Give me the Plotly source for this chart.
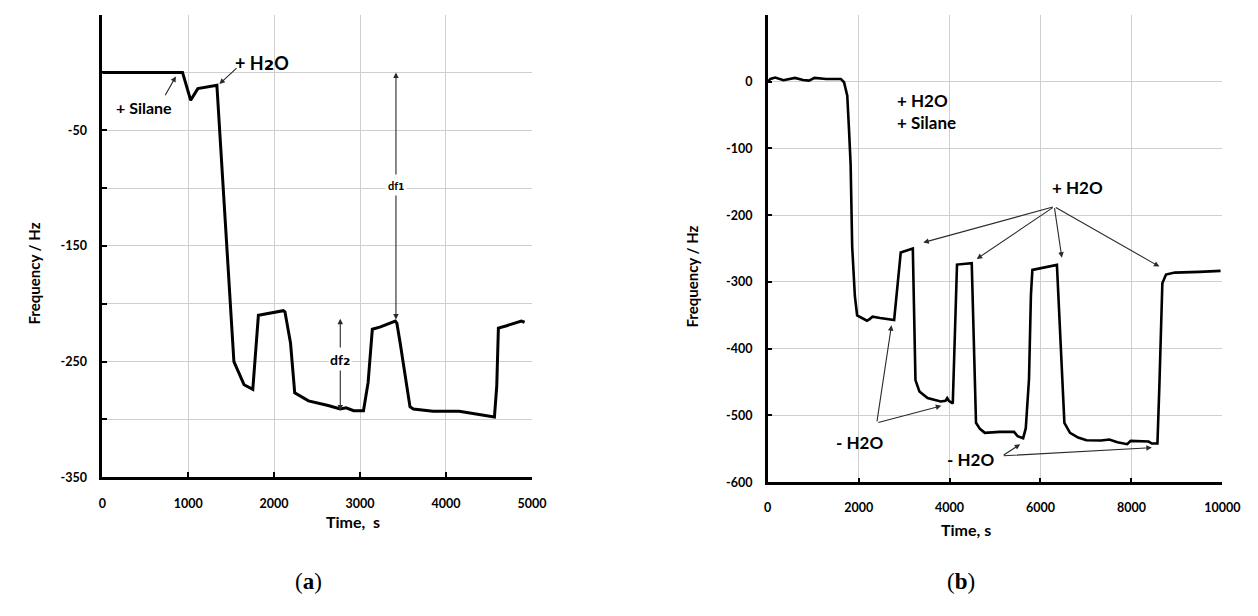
import plotly.graph_objects as go

# ---- Panel (a): frequency shift vs time ----
time_a = [0, 934, 1029, 1112, 1334, 1532, 1650, 1752, 1817, 1943, 2107, 2126,
          2191, 2240, 2400, 2629, 2769, 2838, 2926, 3040, 3094, 3143, 3238,
          3410, 3429, 3467, 3581, 3620, 3849, 4153, 4564, 4591, 4610, 4706,
          4877, 4915]
freq_a = [0, 0, -24, -14, -11, -250, -270, -274, -210, -208, -206, -207,
          -234, -277, -284, -288, -291, -290, -292.5, -292.5, -268, -222, -220,
          -215, -217, -234, -289, -291, -293, -293, -298, -271, -221, -219,
          -215, -216]

# ---- Panel (b): frequency shift vs time ----
time_b = [0, 58, 166, 346, 599, 778, 908, 1031, 1284, 1608, 1679, 1750, 1787,
          1824, 1858, 1917, 1967, 2075, 2183, 2234, 2306, 2472, 2781, 2926,
          3192, 3250, 3337, 3516, 3804, 3911, 3948, 3985, 4071, 4164, 4488,
          4582, 4668, 4776, 5100, 5418, 5497, 5619, 5677, 5748, 5790, 5822,
          6362, 6526, 6650, 6829, 7010, 7334, 7514, 7693, 7909, 7983, 8199,
          8378, 8450, 8573, 8616, 8681, 8761, 8955, 9495, 9962]
freq_b = [-1, 4, 6, 2, 5.5, 2.5, 1.5, 5.5, 4, 4, -1, -21, -70,
          -124, -247, -321, -350, -353.5, -358, -356, -352, -354, -357, -256,
          -250, -447, -464, -474, -479, -478, -474, -478, -482, -274, -272,
          -511, -520, -526, -524.5, -524.5, -531, -534, -519, -445, -320, -282,
          -274.5, -511, -526, -533, -537, -537.5, -536, -540, -543, -538, -539,
          -539, -542, -542, -454.5, -302, -289, -286, -285, -283.5]

# labelled axis ticks
ytick_a = [-350, -250, -150, -50]
xtick_a = [0, 1000, 2000, 3000, 4000, 5000]
ytick_b = [-600, -500, -400, -300, -200, -100, 0]
xtick_b = [0, 2000, 4000, 6000, 8000, 10000]

FONT = "Lato"
GRID = "#cfcfcf"
ARROW = "#2a2a2a"

fig = go.Figure()
fig.add_trace(go.Scatter(x=time_a, y=freq_a, mode="lines",
                         line=dict(color="black", width=3),
                         xaxis="x", yaxis="y", showlegend=False,
                         hoverinfo="skip"))
fig.add_trace(go.Scatter(x=time_b, y=freq_b, mode="lines",
                         line=dict(color="black", width=2.6),
                         xaxis="x2", yaxis="y2", showlegend=False,
                         hoverinfo="skip"))

tickfont = dict(family=FONT, size=12.5, color="black", weight="bold")
common_axis = dict(showline=True, linecolor="black", linewidth=2.5,
                   showgrid=True, gridcolor=GRID, gridwidth=1,
                   zeroline=False, ticks="inside", ticklen=5, tickwidth=1.5,
                   tickcolor="black", tickfont=tickfont, fixedrange=True)


def minor(step):
    return dict(dtick=step, tick0=0, showgrid=True, gridcolor=GRID,
                gridwidth=1, ticks="inside", ticklen=5, tickwidth=1.5,
                tickcolor="black")


def sub(ch, px):
    # subscript digit drawn with a font whose subscript glyphs are full-sized
    return ("<span style=\"font-family:'DejaVu Sans';font-size:%dpx\">%s</span>"
            % (px, ch))


fig.update_layout(
    width=1258, height=616,
    margin=dict(l=0, r=0, t=0, b=0),
    paper_bgcolor="white", plot_bgcolor="white",
    xaxis=dict(domain=[100 / 1258, 537.3 / 1258], range=[0, 5000],
               tickmode="array", tickvals=xtick_a,
               ticktext=[str(v) for v in xtick_a], anchor="y",
               ticklabelstandoff=13, **common_axis),
    yaxis=dict(domain=[1 - 482.7 / 616, 1 - 14.8 / 616], range=[-350, 50],
               tickmode="array", tickvals=ytick_a,
               ticktext=[str(v) for v in ytick_a], minor=minor(50),
               anchor="x", ticklabelstandoff=10, **common_axis),
    xaxis2=dict(domain=[777.3 / 1258, 1240 / 1258], range=[0, 10000],
                tickmode="array", tickvals=xtick_b,
                ticktext=[str(v) for v in xtick_b], anchor="y2",
                ticklabelstandoff=12, **common_axis),
    yaxis2=dict(domain=[1 - 487.8 / 616, 1 - 15 / 616], range=[-600, 100],
                tickmode="array", tickvals=ytick_b,
                ticktext=[str(v) for v in ytick_b], minor=minor(100),
                anchor="x2", ticklabelstandoff=10, **common_axis),
)

ann = []


def label(text, x, y, size, xref="x", yref="y", **kw):
    d = dict(text=text, x=x, y=y, xref=xref, yref=yref, showarrow=False,
             font=dict(family=FONT, size=size, color="black", weight="bold"))
    d.update(kw)
    ann.append(d)


def arrow(x, y, ax, ay, xref="x", yref="y", side="end", head=2, size=1.0):
    ann.append(dict(text="", x=x, y=y, ax=ax, ay=ay, xref=xref, yref=yref,
                    axref=xref, ayref=yref, showarrow=True, arrowhead=head,
                    startarrowhead=head, arrowside=side, arrowsize=size,
                    startarrowsize=size, arrowwidth=1.1, arrowcolor=ARROW,
                    standoff=0, startstandoff=0))


# panel (a) annotations
label("+ Silane", 491, -30.5, 16)
arrow(857, -3.4, 723, -21)
label("+ H" + sub("\u2082", 24) + "O", 1857, 9, 18)
arrow(1363, -10, 1581, 5)
arrow(3418, 0, 3418, -215, side="end+start")
label("df" + sub("\u2081", 14), 3418, -97.5, 11, bgcolor="white",
      borderpad=2)
arrow(2770, -213, 2770, -293.6, side="end+start")
label("df" + sub("\u2082", 17), 2770, -248, 14, bgcolor="white",
      borderpad=1)

# panel (b) annotations
label("+ H2O<br>+ Silane", 2796, -45, 17, xref="x2", yref="y2",
      xanchor="left", align="left")
label("+ H2O", 6811, -158.7, 17, xref="x2", yref="y2")
for tx, ty in [(3423, -241), (4597, -265.6), (6470, -263.7), (8616, -277)]:
    arrow(tx, ty, 6304, -187.2, xref="x2", yref="y2")
label("- H2O", 2021, -540.7, 17, xref="x2", yref="y2")
for tx, ty in [(2723, -364.7), (3819, -485.6)]:
    arrow(tx, ty, 2399, -511.1, xref="x2", yref="y2")
label("- H2O", 4460, -566.5, 17, xref="x2", yref="y2")
for tx, ty in [(5554, -543.2), (8450, -548.1)]:
    arrow(tx, ty, 5158, -560.5, xref="x2", yref="y2")

# axis titles and panel letters
label("Frequency / Hz", 19 / 1258, 1 - 277 / 616, 15, xref="paper",
      yref="paper", textangle=-90)
label("Frequency / Hz", 700 / 1258, 1 - 280 / 616, 15, xref="paper",
      yref="paper", textangle=-90)
label("Time,\u00a0\u00a0s", 326 / 1258, 1 - 539 / 616, 16, xref="paper",
      yref="paper")
label("Time, s", 1007 / 1258, 1 - 547 / 616, 16, xref="paper",
      yref="paper")
ann.append(dict(text="(<b>a</b>)", x=294 / 1258, y=1 - 603 / 616,
                xref="paper", yref="paper", showarrow=False,
                font=dict(family="Liberation Serif", size=23, color="black")))
ann.append(dict(text="(<b>b</b>)", x=990 / 1258, y=1 - 603 / 616,
                xref="paper", yref="paper", showarrow=False,
                font=dict(family="Liberation Serif", size=23, color="black")))

fig.update_layout(annotations=ann)
fig.write_html("out.html", config={"displayModeBar": False})
